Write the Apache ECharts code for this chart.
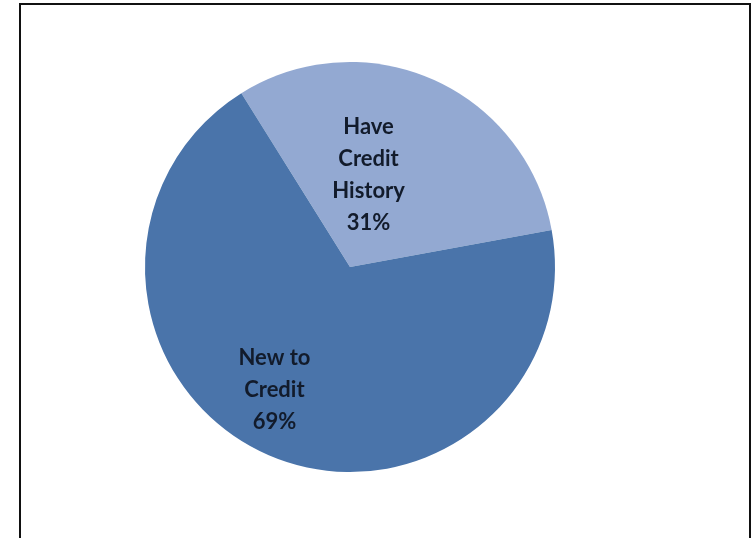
<!DOCTYPE html>
<html>
<head>
<meta charset="utf-8">
<script src="https://cdn.jsdelivr.net/npm/echarts@6/dist/echarts.min.js"></script>
<style>
  html, body { margin: 0; padding: 0; background: #fff; }
  #chart { width: 752px; height: 538px; }
</style>
</head>
<body>
<div id="chart"></div>
<script>
// Credit status split
const categories = ['Have\nCredit\nHistory', 'New to\nCredit'];
const shares = [31, 69];
const sliceColors = ['#93A9D2', '#4A74AA'];
// label nudges so each text sits where it reads best inside its slice
const labelNudge = [[-24, 4], [-33, 26]];

const chart = echarts.init(document.getElementById('chart'));
chart.setOption({
  animation: false,
  graphic: [{
    type: 'rect',
    shape: { x: 20, y: 4, width: 730, height: 560 },
    style: { fill: 'none', stroke: '#111', lineWidth: 2 }
  }],
  series: [{
    type: 'pie',
    center: [350, 267],
    radius: [0, 205],
    startAngle: 122,
    clockwise: true,
    data: categories.map((name, i) => ({
      name: name,
      value: shares[i],
      itemStyle: { color: sliceColors[i] }
    })),
    itemStyle: { borderWidth: 0 },
    label: {
      show: true,
      position: 'inside',
      formatter: p => p.name + '\n' + p.value + '%',
      color: '#121b2b',
      fontFamily: 'Lato',
      fontWeight: 'bold',
      fontSize: 22,
      lineHeight: 32
    },
    labelLine: { show: false },
    labelLayout: p => ({ dx: labelNudge[p.dataIndex][0], dy: labelNudge[p.dataIndex][1] }),
    emphasis: { disabled: true }
  }]
});
</script>
</body>
</html>
